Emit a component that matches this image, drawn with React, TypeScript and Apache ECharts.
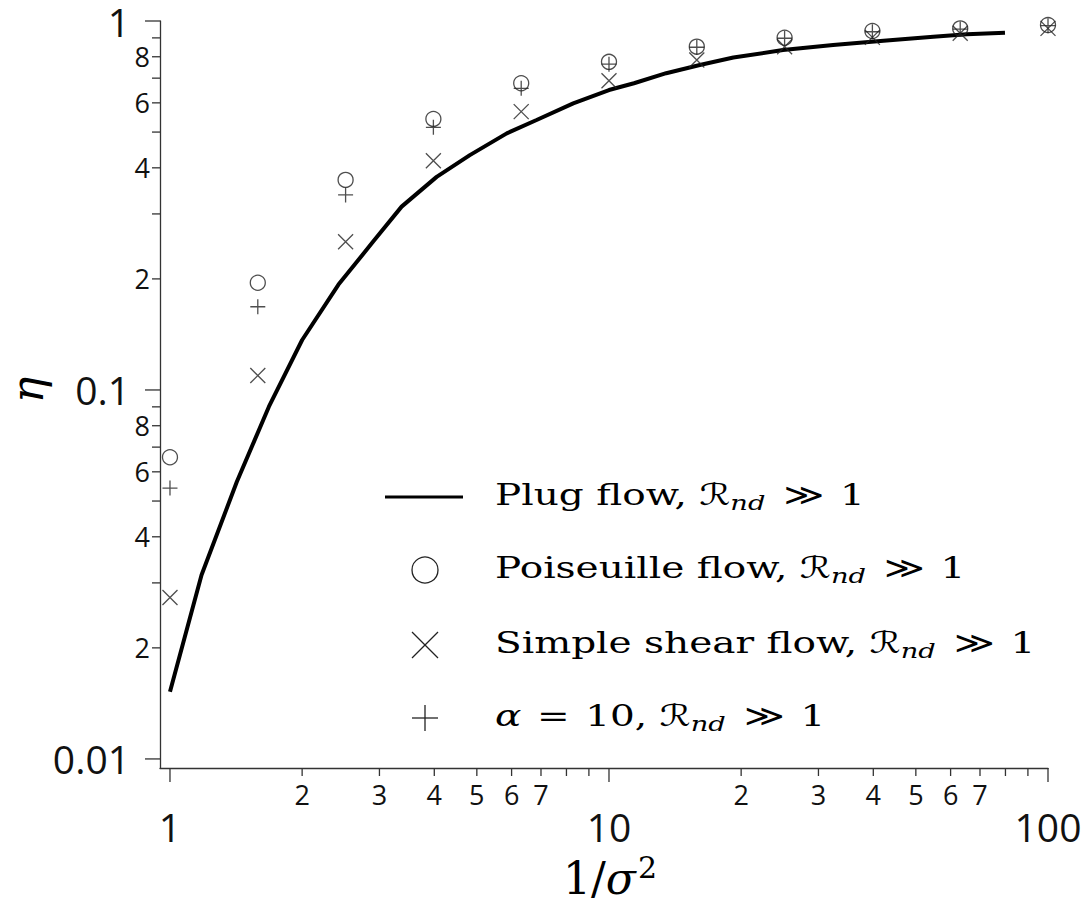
import { useEffect, useRef } from "react";
import * as echarts from "echarts";

// Sample points along 1/sigma^2 shared by the three simulation series
const samplePoints = [1, 1.585, 2.512, 3.981, 6.31, 10, 15.85, 25.12, 39.81, 63.1, 100];
const poiseuilleEta = [0.0657, 0.1953, 0.371, 0.5427, 0.678, 0.775, 0.852, 0.901, 0.9395, 0.955, 0.975];
const simpleShearEta = [0.0274, 0.1094, 0.2523, 0.418, 0.568, 0.689, 0.784, 0.852, 0.903, 0.926, 0.955];
const alpha10Eta = [0.0542, 0.1681, 0.3377, 0.515, 0.657, 0.764, 0.849, 0.898, 0.935, 0.951, 0.971];

// Plug-flow curve
const plugX = [1, 1.18, 1.42, 1.68, 2.0, 2.42, 2.9, 3.37, 4.05, 4.82, 5.85, 6.84, 8.29, 10.0, 11.4, 13.5, 16.1, 19.2, 24.9, 32.4, 42.2, 54.8, 65.3, 79.8];
const plugEta = [0.0152, 0.0315, 0.0564, 0.0901, 0.1366, 0.193, 0.252, 0.314, 0.378, 0.433, 0.496, 0.539, 0.598, 0.65, 0.678, 0.722, 0.76, 0.796, 0.834, 0.861, 0.884, 0.907, 0.92, 0.93];

// Axis ranges (the axis lines run slightly past the first decade mark)
const X_MIN = 0.949;
const X_MAX = 100;
const Y_MIN = 0.00945;
const Y_MAX = 1;

// Tick marks and their labels
const xTickValues = [1, 2, 3, 4, 5, 6, 7, 8, 9, 10, 20, 30, 40, 50, 60, 70, 80, 90, 100];
const xTickLabels = ["1", "2", "3", "4", "5", "6", "7", "", "", "10", "2", "3", "4", "5", "6", "7", "", "", "100"];
const yTickValues = [
  0.01, 0.02, 0.03, 0.04, 0.05, 0.06, 0.07, 0.08, 0.09,
  0.1, 0.2, 0.3, 0.4, 0.5, 0.6, 0.7, 0.8, 0.9, 1,
];
const yTickLabels = [
  "0.01", "2", "", "4", "", "6", "", "8", "",
  "0.1", "2", "", "4", "", "6", "", "8", "", "1",
];

const seriesNames = [
  "Plug flow",
  "Poiseuille flow",
  "Simple shear flow",
  "α = 10",
];

const AXIS_COLOR = "#333";
const MARK_COLOR = "#222";
const TICK_FONT = "Open Sans";
const MATH_FONT = "'DejaVu Serif', 'DejaVu Sans', serif";

const isDecade = (v: number) => Math.abs(Math.log10(v) - Math.round(Math.log10(v))) < 1e-9;

const CROSS = "path://M0 0L10 10M10 0L0 10";
const PLUS = "path://M5 0L5 10M0 5L10 5";

const LEGEND_FONT = 30;
const legendRich = {
  rm: { fontFamily: MATH_FONT, fontSize: LEGEND_FONT, fill: "#000" },
  it: { fontFamily: MATH_FONT, fontSize: LEGEND_FONT, fontStyle: "italic", fill: "#000" },
  cal: { fontFamily: MATH_FONT, fontSize: LEGEND_FONT, fontStyle: "italic", fill: "#000" },
  sub: { fontFamily: MATH_FONT, fontSize: 21, fontStyle: "italic", fill: "#000", padding: [16, 2, 0, 0] },
  rel: { fontFamily: MATH_FONT, fontSize: LEGEND_FONT, fill: "#000", padding: [0, 12, 0, 12] },
};

const legendTexts = [
  `{rm|${seriesNames[0]}, }{cal|ℛ}{sub|nd}{rel|≫}{rm|1}`,
  `{rm|${seriesNames[1]}, }{cal|ℛ}{sub|nd}{rel|≫}{rm|1}`,
  `{rm|${seriesNames[2]}, }{cal|ℛ}{sub|nd}{rel|≫}{rm|1}`,
  `{it|α}{rel|=}{rm|10, }{cal|ℛ}{sub|nd}{rel|≫}{rm|1}`,
];

export default function App() {
  const ref = useRef<HTMLDivElement>(null);

  useEffect(() => {
    if (!ref.current) return;
    const chart = echarts.init(ref.current, undefined, { renderer: "svg" });

    const markerStyle = { color: "none", borderColor: MARK_COLOR, borderWidth: 1.3 };

    const rowY = [497, 570, 645, 718];
    const legendX = 425;
    const legendGraphics: any[] = [
      { type: "line", shape: { x1: 385, y1: rowY[0], x2: 463, y2: rowY[0] }, style: { stroke: "#000", lineWidth: 3 } },
      { type: "circle", shape: { cx: legendX, cy: rowY[1], r: 13 }, style: { fill: "none", stroke: MARK_COLOR, lineWidth: 1.3 } },
      { type: "line", shape: { x1: legendX - 13, y1: rowY[2] - 13, x2: legendX + 13, y2: rowY[2] + 13 }, style: { stroke: MARK_COLOR, lineWidth: 1.3 } },
      { type: "line", shape: { x1: legendX - 13, y1: rowY[2] + 13, x2: legendX + 13, y2: rowY[2] - 13 }, style: { stroke: MARK_COLOR, lineWidth: 1.3 } },
      { type: "line", shape: { x1: legendX - 13, y1: rowY[3], x2: legendX + 13, y2: rowY[3] }, style: { stroke: MARK_COLOR, lineWidth: 1.3 } },
      { type: "line", shape: { x1: legendX, y1: rowY[3] - 13, x2: legendX, y2: rowY[3] + 13 }, style: { stroke: MARK_COLOR, lineWidth: 1.3 } },
      ...legendTexts.map((t, i) => ({
        type: "text",
        x: 495,
        y: rowY[i] - 2,
        scaleX: 1.3,
        style: { text: t, rich: legendRich, verticalAlign: "middle", align: "left" },
      })),
    ];

    chart.setOption({
      animation: false,
      grid: { left: 160, top: 21, width: 888, height: 747, containLabel: false },
      xAxis: {
        type: "log",
        min: X_MIN,
        max: X_MAX,
        axisLine: { show: true, lineStyle: { color: AXIS_COLOR, width: 1.3 } },
        axisTick: { show: false },
        axisLabel: { show: false },
        splitLine: { show: false },
      },
      yAxis: {
        type: "log",
        min: Y_MIN,
        max: Y_MAX,
        axisLine: { show: true, lineStyle: { color: AXIS_COLOR, width: 1.3 } },
        axisTick: { show: false },
        axisLabel: { show: false },
        splitLine: { show: false },
      },
      graphic: [
        ...legendGraphics,
        {
          type: "text",
          x: 27,
          y: 390,
          rotation: Math.PI / 2,
          style: {
            text: "η",
            font: `italic 44px ${MATH_FONT}`,
            fill: "#000",
            align: "center",
            verticalAlign: "middle",
          },
        },
        {
          type: "text",
          x: 610,
          y: 878,
          style: {
            text: "{n|1/}{s|σ}{p|2}",
            align: "center",
            verticalAlign: "middle",
            rich: {
              n: { fontFamily: MATH_FONT, fontSize: 44, fill: "#000" },
              s: { fontFamily: MATH_FONT, fontSize: 44, fontStyle: "italic", fill: "#000" },
              p: { fontFamily: MATH_FONT, fontSize: 30, fill: "#000", padding: [0, 0, 22, 2] },
            },
          },
        },
      ],
      series: [
        {
          name: seriesNames[0],
          type: "line",
          data: plugX.map((x, i) => [x, plugEta[i]]),
          symbol: "none",
          lineStyle: { color: "#000", width: 4 },
          z: 2,
        },
        {
          name: seriesNames[1],
          type: "scatter",
          data: samplePoints.map((x, i) => [x, poiseuilleEta[i]]),
          symbol: "circle",
          symbolSize: 15,
          itemStyle: markerStyle,
          z: 3,
        },
        {
          name: seriesNames[2],
          type: "scatter",
          data: samplePoints.map((x, i) => [x, simpleShearEta[i]]),
          symbol: CROSS,
          symbolSize: 15,
          itemStyle: markerStyle,
          z: 3,
        },
        {
          name: seriesNames[3],
          type: "scatter",
          data: samplePoints.map((x, i) => [x, alpha10Eta[i]]),
          symbol: PLUS,
          symbolSize: 15,
          itemStyle: markerStyle,
          z: 3,
        },
        {
          type: "custom",
          name: "x ticks",
          coordinateSystem: "cartesian2d",
          clip: false,
          silent: true,
          data: xTickValues.map((v, i) => [v, Y_MIN, i]),
          renderItem: (_params: any, api: any) => {
            const v = api.value(0);
            const i = api.value(2);
            const [px, py] = api.coord([v, Y_MIN]);
            const major = isDecade(v);
            const children: any[] = [
              {
                type: "line",
                shape: { x1: px, y1: py, x2: px, y2: py + (major ? 14 : 8) },
                style: { stroke: AXIS_COLOR, lineWidth: 1.3 },
              },
            ];
            const label = xTickLabels[i];
            if (label) {
              const size = major ? 39 : 27;
              children.push({
                type: "text",
                x: px,
                y: major ? py + 58 : py + 26,
                style: {
                  text: label,
                  fontFamily: TICK_FONT,
                  fontSize: size,
                  lineHeight: size,
                  fill: "#111",
                  align: "center",
                  verticalAlign: "middle",
                },
              });
            }
            return { type: "group", children };
          },
        },
        {
          type: "custom",
          name: "y ticks",
          coordinateSystem: "cartesian2d",
          clip: false,
          silent: true,
          data: yTickValues.map((v, i) => [X_MIN, v, i]),
          renderItem: (_params: any, api: any) => {
            const v = api.value(1);
            const i = api.value(2);
            const [px, py] = api.coord([X_MIN, v]);
            const major = isDecade(v);
            const children: any[] = [
              {
                type: "line",
                shape: { x1: px, y1: py, x2: px - (major ? 15 : 8), y2: py },
                style: { stroke: AXIS_COLOR, lineWidth: 1.3 },
              },
            ];
            const label = yTickLabels[i];
            if (label) {
              const size = major ? 39 : 27;
              children.push({
                type: "text",
                x: major ? px - 30 : px - 10,
                y: py,
                style: {
                  text: label,
                  fontFamily: TICK_FONT,
                  fontSize: size,
                  lineHeight: size,
                  fill: "#111",
                  align: "right",
                  verticalAlign: "middle",
                },
              });
            }
            return { type: "group", children };
          },
        },
      ],
    });

    return () => chart.dispose();
  }, []);

  return (
    <div
      ref={ref}
      style={{ position: "fixed", left: 0, top: 0, width: 1088, height: 907, background: "#fff" }}
    />
  );
}
